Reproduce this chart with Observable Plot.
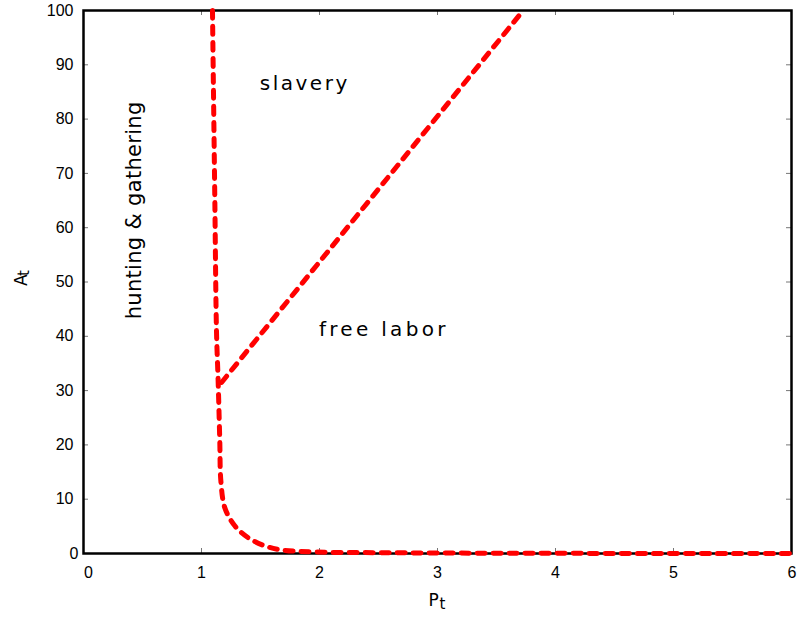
<!DOCTYPE html>
<html><head><meta charset="utf-8">
<script src="https://cdn.jsdelivr.net/npm/d3@7"></script>
<script src="https://cdn.jsdelivr.net/npm/@observablehq/plot@0.6"></script>
<style>
body{margin:0;background:#fff}
</style>
</head><body><div id="chart"></div>
<script>
const xTicks = [0, 1, 2, 3, 4, 5, 6];
const yTicks = [0, 10, 20, 30, 40, 50, 60, 70, 80, 90, 100];
const innerXTicks = [1, 2, 3, 4, 5];
const innerYTicks = [10, 20, 30, 40, 50, 60, 70, 80, 90];

// hunting & gathering boundary
const boundaryP = [1.093, 1.113, 1.127, 1.141, 1.155, 1.164, 1.198, 1.282, 1.396, 1.537, 1.68, 1.96, 2.53, 3.5, 6];
const boundaryA = [100, 65, 41, 31.8, 20.7, 13.4, 8.4, 5.1, 2.9, 1.4, 0.65, 0.28, 0.15, 0.05, 0];
// slavery / free labor boundary
const slaveP = [1.17, 2.0, 3.726];
const slaveA = [31.5, 53.7, 100];

const regionText = ["slavery", "free labor", "hunting & gathering"];
const regionP = [1.875, 2.545, 0.427];
const regionA = [86.6, 41.3, 63.2];

const boundary = boundaryP.map((p, i) => ({p, a: boundaryA[i]}));
const slave = slaveP.map((p, i) => ({p, a: slaveA[i]}));
const regions = regionText.map((t, i) => ({t, p: regionP[i], a: regionA[i]}));

const plotW = 797 - 83 - 6, plotH = 623 - 10 - 70;
const tickLen = 5;
const labelFont = "'DejaVu Sans', sans-serif";

const chart = Plot.plot({
  width: 797, height: 623,
  marginLeft: 83, marginRight: 6, marginTop: 10, marginBottom: 70,
  style: {fontFamily: "'Liberation Sans', Arial, sans-serif", fontSize: "16px", background: "#fff", color: "#000"},
  x: {domain: [0, 6], ticks: xTicks, label: null},
  y: {domain: [0, 100], ticks: yTicks, label: null},
  marks: [
    Plot.axisX(xTicks, {tickSize: 0, tickPadding: 13, fontSize: 16, label: null, tickFormat: d3.format("d")}),
    Plot.axisY(yTicks, {tickSize: 0, tickPadding: 10, fontSize: 16, label: null, tickFormat: d3.format("d")}),
    Plot.ruleX(innerXTicks, {x: d => d, insetTop: plotH - tickLen, stroke: "#777", strokeWidth: 1}),
    Plot.ruleX(innerXTicks, {x: d => d, insetBottom: plotH - tickLen, stroke: "#777", strokeWidth: 1}),
    Plot.ruleY(innerYTicks, {y: d => d, insetRight: plotW - tickLen, stroke: "#777", strokeWidth: 1}),
    Plot.ruleY(innerYTicks, {y: d => d, insetLeft: plotW - tickLen, stroke: "#777", strokeWidth: 1}),
    Plot.frame({stroke: "#000", strokeWidth: 2.5}),
    Plot.line(boundary, {x: "p", y: "a", stroke: "#ff0000", strokeWidth: 5, strokeDasharray: "8,8", strokeLinecap: "round", strokeLinejoin: "round", curve: "catmull-rom"}),
    Plot.line(slave, {x: "p", y: "a", stroke: "#ff0000", strokeWidth: 5, strokeDasharray: "8,8", strokeLinecap: "round", strokeLinejoin: "round"}),
    Plot.text(regions.slice(0, 2), {x: "p", y: "a", text: "t", fontFamily: labelFont, fontSize: 20, fill: "#000"}),
    Plot.text(regions.slice(2), {x: "p", y: "a", text: "t", rotate: -90, fontFamily: labelFont, fontSize: 21, fill: "#000"}),
    Plot.text(["P"], {frameAnchor: "bottom", text: d => d, dx: -4, dy: 52, fontSize: 17, fontFamily: labelFont, fill: "#000"}),
    Plot.text(["t"], {frameAnchor: "bottom", text: d => d, dx: 5, dy: 55, fontSize: 15, fontFamily: labelFont, fill: "#000"}),
    Plot.text(["A"], {frameAnchor: "left", text: d => d, rotate: -90, dx: -62, dy: 4, fontSize: 17, fontFamily: labelFont, fill: "#000"}),
    Plot.text(["t"], {frameAnchor: "left", text: d => d, rotate: -90, dx: -59, dy: -6, fontSize: 15, fontFamily: labelFont, fill: "#000"})
  ]
});
document.getElementById("chart").appendChild(chart);
const spacing = {"slavery": "2.5px", "free labor": "3.3px", "hunting & gathering": "0.3px"};
d3.select(chart).selectAll("text").each(function() {
  const s = spacing[this.textContent];
  if (s) this.style.letterSpacing = s;
});
// end x tick labels sit slightly inside, as in the reference
d3.select(chart).selectAll("text").filter(function() { return this.textContent === "6"; }).attr("text-anchor", "end").attr("dx", "5");
d3.select(chart).selectAll("text").filter(function() { return this.textContent === "0" && this.getAttribute("text-anchor") !== "end"; }).attr("dx", "5");
</script>
</body></html>
